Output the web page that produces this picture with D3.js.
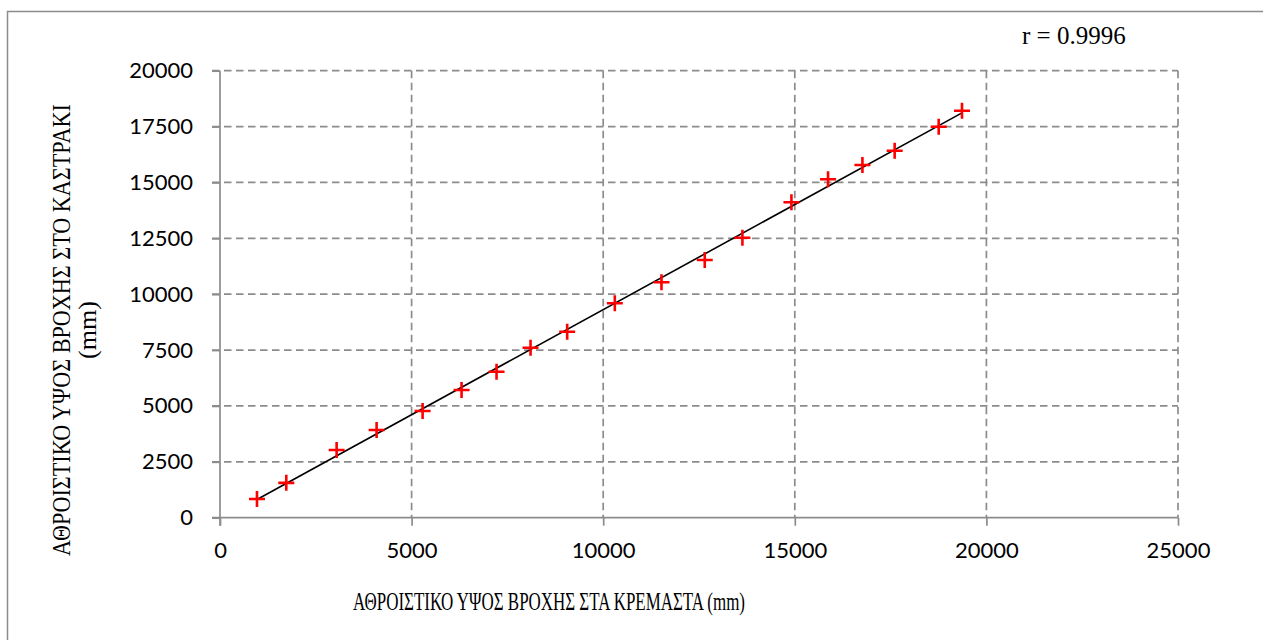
<!DOCTYPE html>
<html>
<head>
<meta charset="utf-8">
<script src="https://cdn.jsdelivr.net/npm/d3@7"></script>
<style>
  body { margin: 0; background: #fff; }
  svg { display: block; }
</style>
</head>
<body>
<div id="chart"></div>
<script>
// cumulative rainfall (mm)
const kremasta = [965, 1730, 3044, 4087, 5287, 6304, 7217, 8104, 9060, 10303,
  11521, 12650, 13633, 14912, 15868, 16765, 17606, 18755, 19363];
const kastraki = [840, 1560, 3029, 3924, 4774, 5714, 6532, 7606, 8322, 9593,
  10532, 11530, 12528, 14112, 15141, 15781, 16421, 17494, 18210];
const xTicks = [0, 5000, 10000, 15000, 20000, 25000];
const yTicks = [0, 2500, 5000, 7500, 10000, 12500, 15000, 17500, 20000];
const rLabel = 'r = 0.9996';
const xTitle = 'ΑΘΡΟΙΣΤΙΚΟ ΥΨΟΣ ΒΡΟΧΗΣ ΣΤΑ ΚΡΕΜΑΣΤΑ (mm)';
const yTitle = ['ΑΘΡΟΙΣΤΙΚΟ ΥΨΟΣ ΒΡΟΧΗΣ ΣΤΟ ΚΑΣΤΡΑΚΙ', '(mm)'];

const width = 1263, height = 640;
const gridColor = '#8c8c8c';

const svg = d3.select('#chart').append('svg')
  .attr('width', width)
  .attr('height', height);

// chart frame (cropped at right/bottom in the original)
svg.append('rect')
  .attr('x', 7.5).attr('y', 11.5)
  .attr('width', 1300).attr('height', 700)
  .attr('fill', '#fff')
  .attr('stroke', '#8c8c8c')
  .attr('stroke-width', 1.5);

const x = d3.scaleLinear().domain([0, 25000]).range([220, 1178]);
const y = d3.scaleLinear().domain([0, 20000]).range([517.7, 70.7]);

// grid lines
svg.append('g')
  .selectAll('line')
  .data(yTicks.slice(1))
  .join('line')
  .attr('x1', 212).attr('x2', x(25000))
  .attr('y1', d => y(d)).attr('y2', d => y(d))
  .attr('stroke', gridColor)
  .attr('stroke-width', 1.7)
  .attr('stroke-dasharray', '7.5,4.5');

svg.append('g')
  .selectAll('line')
  .data(xTicks.slice(1))
  .join('line')
  .attr('x1', d => x(d)).attr('x2', d => x(d))
  .attr('y1', y(20000)).attr('y2', y(0))
  .attr('stroke', gridColor)
  .attr('stroke-width', 1.7)
  .attr('stroke-dasharray', '7.5,4.5');

// axes
const xAxis = d3.axisBottom(x).tickValues(xTicks).tickSize(8).tickPadding(8)
  .tickFormat(d3.format('d'));
const yAxis = d3.axisLeft(y).tickValues(yTicks).tickSize(8).tickPadding(19)
  .tickFormat(d3.format('d'));

const gx = svg.append('g')
  .attr('transform', `translate(0,${y(0)})`)
  .call(xAxis);
const gy = svg.append('g')
  .attr('transform', `translate(${x(0)},0)`)
  .call(yAxis);

[gx, gy].forEach(g => {
  g.select('.domain').attr('stroke', gridColor).attr('stroke-width', 1.7);
  g.selectAll('.tick line').attr('stroke', gridColor).attr('stroke-width', 1.7);
  g.selectAll('.tick text')
    .attr('fill', '#000')
    .style('font-family', 'Lato, "Open Sans", sans-serif')
    .style('font-size', '22px');
});
gx.select('.domain').attr('d', `M212,0H${x(25000)}`);
gx.selectAll('.tick text').attr('dy', '1.1em');
gy.select('.domain').attr('d', `M0,${y(20000)}V${y(0) + 8}`);
gy.selectAll('.tick line').attr('x1', 0);

// linear trend line (least squares)
const mx = d3.mean(kremasta), my = d3.mean(kastraki);
const sxy = d3.sum(kremasta, (v, i) => (v - mx) * (kastraki[i] - my));
const sxx = d3.sum(kremasta, v => (v - mx) * (v - mx));
const slope = sxy / sxx, icpt = my - slope * mx;
const xr = d3.extent(kremasta);

svg.append('path')
  .datum(xr)
  .attr('d', d3.line().x(d => x(d)).y(d => y(slope * d + icpt)))
  .attr('fill', 'none')
  .attr('stroke', '#000')
  .attr('stroke-width', 1.6);

// markers
const pts = kremasta.map((v, i) => [v, kastraki[i]]);
const arm = 8;
svg.append('g')
  .selectAll('path')
  .data(pts)
  .join('path')
  .attr('d', d => {
    const px = x(d[0]), py = y(d[1]);
    return `M${px - arm},${py}H${px + arm}M${px},${py - arm}V${py + arm}`;
  })
  .attr('stroke', '#ff0000')
  .attr('stroke-width', 2.6)
  .attr('fill', 'none');

// texts
const serif = '"Liberation Serif", "DejaVu Serif", serif';

svg.append('text')
  .attr('x', 1022).attr('y', 44)
  .style('font-family', serif)
  .style('font-size', '25px')
  .text(rLabel);

svg.append('text')
  .attr('x', 353).attr('y', 610)
  .attr('textLength', 392)
  .attr('lengthAdjust', 'spacingAndGlyphs')
  .style('font-family', serif)
  .style('font-size', '25px')
  .text(xTitle);

const yt = svg.append('g')
  .attr('transform', 'translate(0,330) rotate(-90)');
yt.append('text')
  .attr('x', 0).attr('y', 70)
  .attr('text-anchor', 'middle')
  .attr('textLength', 452)
  .attr('lengthAdjust', 'spacingAndGlyphs')
  .style('font-family', serif)
  .style('font-size', '26px')
  .text(yTitle[0]);
yt.append('text')
  .attr('x', 0).attr('y', 96)
  .attr('text-anchor', 'middle')
  .attr('textLength', 58)
  .attr('lengthAdjust', 'spacingAndGlyphs')
  .style('font-family', serif)
  .style('font-size', '26px')
  .text(yTitle[1]);
</script>
</body>
</html>
